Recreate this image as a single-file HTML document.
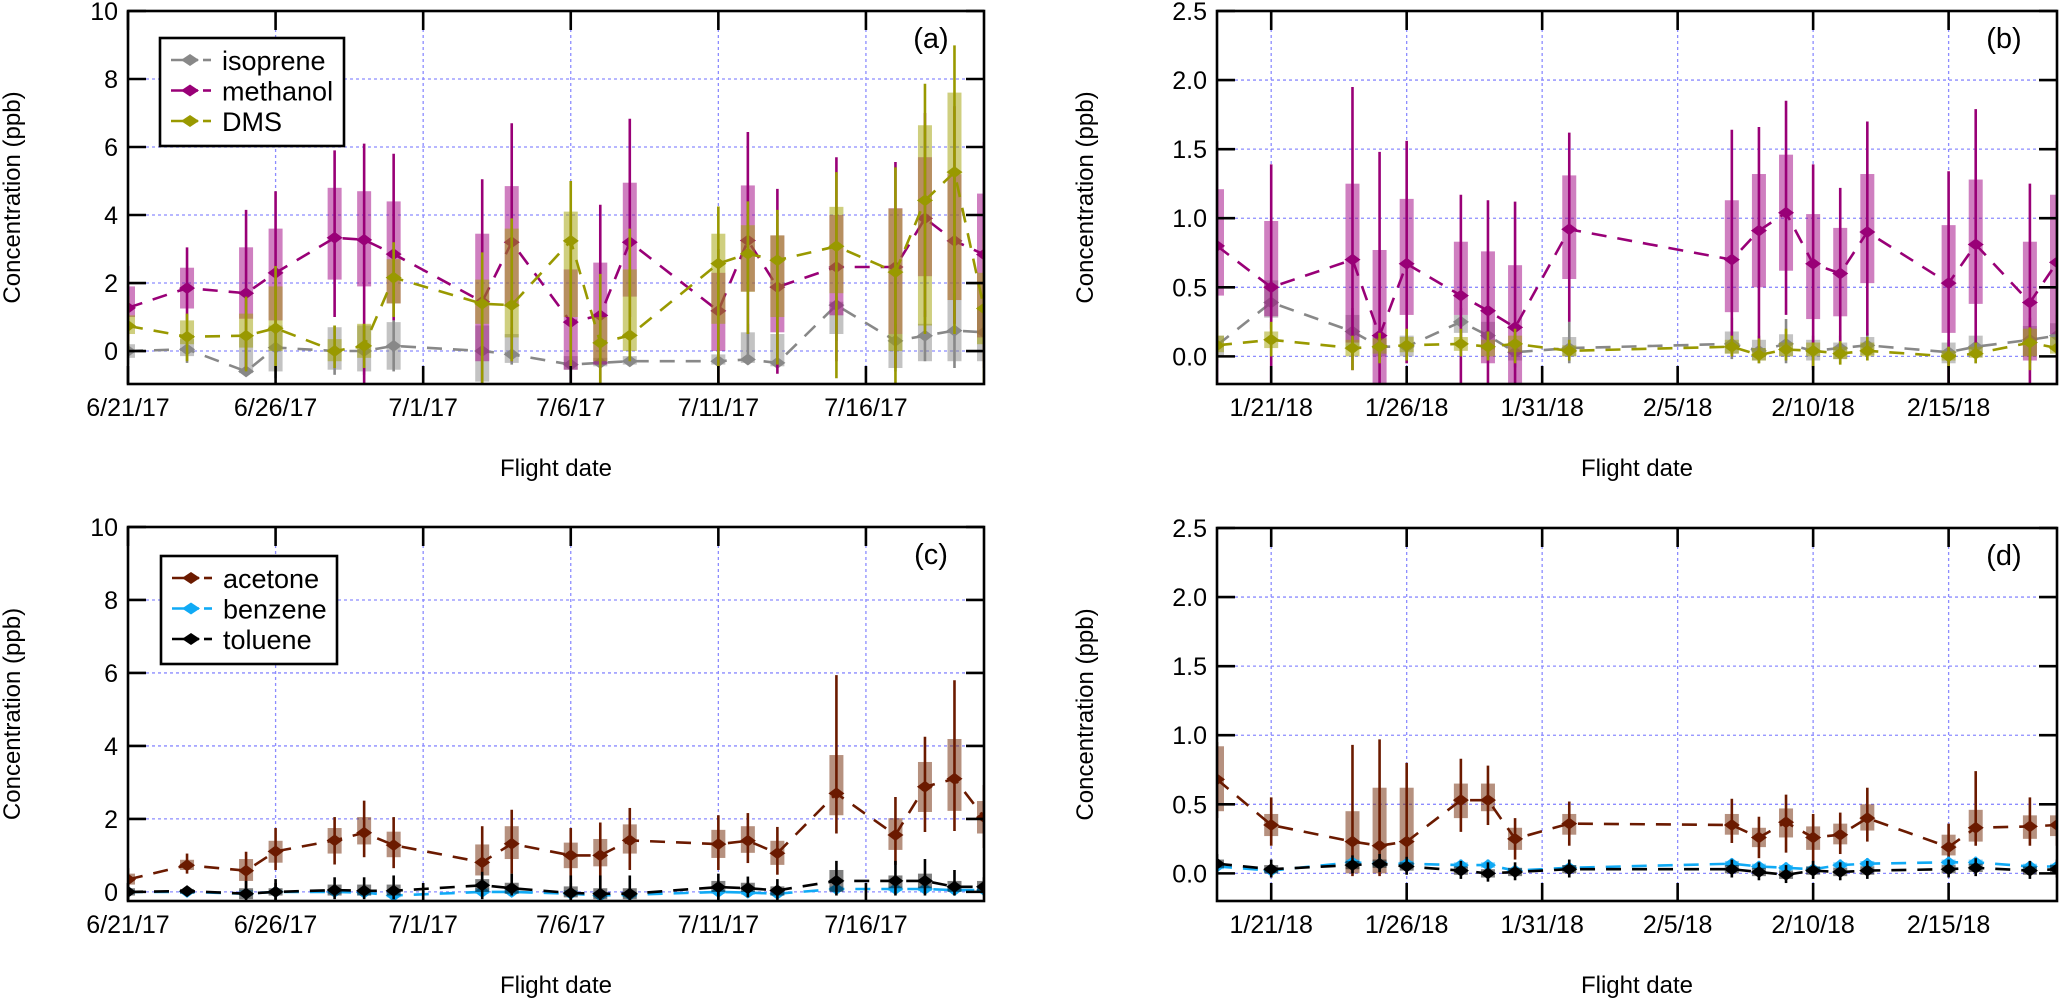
<!DOCTYPE html>
<html><head><meta charset="utf-8"><title>Flight concentrations</title>
<style>
html,body{margin:0;padding:0;background:#fff;}
svg{display:block;font-family:"Liberation Sans",Arial,sans-serif;}
</style></head>
<body>
<svg id="chart" width="2067" height="999" viewBox="0 0 2067 999" xmlns="http://www.w3.org/2000/svg">
<defs>
<clipPath id="clipA"><rect x="128" y="11" width="856" height="373"/></clipPath>
<clipPath id="clipB"><rect x="1217" y="11" width="840" height="373"/></clipPath>
<clipPath id="clipC"><rect x="128" y="527" width="856" height="374"/></clipPath>
<clipPath id="clipD"><rect x="1217" y="528" width="840" height="373"/></clipPath>
</defs>
<g id="root"></g>
</svg>
<script>
// ---------- Panel A / C (summer 2017): days since 6/21/17 ----------
const daysA = [0,2,4,5,7,8,9,12,13,15,16,17,20,21,22,24,26,27,28,29];
const tickDaysA = [0,5,10,15,20,25];
const tickLabelsA = ["6/21/17","6/26/17","7/1/17","7/6/17","7/11/17","7/16/17"];
const yTicksA = [0,2,4,6,8,10];
const yTickLabelsA = ["0","2","4","6","8","10"];

const isoA_med = [0,0.05,-0.6,0.1,0,0,0.15,0,-0.1,-0.4,-0.35,-0.3,-0.3,-0.25,-0.35,1.35,0.3,0.45,0.6,0.55];
const isoA_q1  = [-0.2,-0.15,-0.65,-0.6,-0.55,-0.6,-0.55,-0.9,-0.35,-0.55,-0.45,-0.4,-0.4,-0.35,-0.45,0.5,-0.5,-0.3,-0.3,-0.3];
const isoA_q3  = [0.2,0.35,0.4,0.75,0.7,0.75,0.85,0.75,0.5,-0.15,-0.2,-0.15,-0.1,0.55,0.5,1.45,0.5,0.8,1.5,1.3];
const isoA_lo  = [-0.4,-0.35,-0.7,-0.8,-0.7,-0.7,-0.6,-1,-0.4,-0.6,-0.5,-0.45,-0.5,-0.4,-0.5,0.3,-0.6,-0.3,-0.5,-0.4];
const isoA_hi  = [0.3,0.5,0.6,0.9,0.75,0.8,0.9,0.9,0.7,0,0,0,0.1,0.8,0.6,1.6,0.8,1.2,1.7,1.5];

const methA_med = [1.27,1.85,1.7,2.3,3.33,3.27,2.85,1.45,3.2,0.85,1.05,3.2,1.18,3.25,1.88,2.47,2.47,3.9,3.24,2.84];
const methA_q1  = [1.0,1.25,0.95,0.9,2.1,1.9,1.4,-0.3,1.3,-0.55,-0.4,1.6,0.0,1.75,0.55,1.05,0.5,2.2,1.5,0.4];
const methA_q3  = [1.9,2.45,3.05,3.6,4.8,4.7,4.4,3.45,4.85,2.4,2.6,4.95,2.3,4.87,3.4,4.0,4.2,5.7,5.2,4.63];
const methA_lo  = [0.3,0.9,-0.55,0.5,1.0,-1,0.9,-1,-0.3,-1,-1,1.0,-1,0.5,-0.67,-0.3,-0.5,1.0,0.8,-0.5];
const methA_hi  = [2.5,3.05,4.15,4.7,5.9,6.1,5.8,5.05,6.7,4.0,4.3,6.83,3.0,6.44,4.77,5.7,5.56,7.0,7.2,6.15];

const dmsA_med = [0.74,0.42,0.45,0.67,0.0,0.15,2.16,1.39,1.35,3.24,0.24,0.46,2.57,2.86,2.67,3.08,2.32,4.43,5.26,1.25];
const dmsA_q1  = [0.5,0.2,0.1,0.0,-0.3,-0.2,1.4,0.8,0.4,1.0,-0.3,0.0,0.8,1.74,1.0,1.7,0.0,0.75,1.5,0.2];
const dmsA_q3  = [1.05,0.9,1.1,1.9,0.35,0.8,2.7,2.1,3.6,4.1,1.0,2.4,3.45,3.7,3.4,4.24,4.19,6.64,7.6,2.3];
const dmsA_lo  = [0.0,-0.3,-0.6,-0.6,-0.5,-0.5,1.0,-1,-0.3,-0.5,-1,-0.3,-1,0.5,-0.4,-0.8,-1,0.5,0.5,-1];
const dmsA_hi  = [1.63,1.1,1.6,2.5,0.75,0.8,3.2,2.9,3.9,5.0,2.27,3.6,4.25,4.4,4.15,5.26,5.4,7.86,8.99,3.4];

const aceC_med = [0.34,0.73,0.58,1.11,1.41,1.62,1.28,0.81,1.32,1.0,1.0,1.41,1.31,1.4,1.06,2.7,1.56,2.88,3.1,2.05];
const aceC_q1  = [0.2,0.6,0.3,0.8,1.05,1.3,0.95,0.45,0.9,0.65,0.7,1.05,0.93,1.07,0.74,2.1,1.15,2.19,2.22,1.6];
const aceC_q3  = [0.5,0.88,0.9,1.4,1.75,2.05,1.65,1.3,1.8,1.35,1.45,1.85,1.7,1.8,1.4,3.75,2.02,3.56,4.19,2.49];
const aceC_lo  = [0.0,0.5,0.1,0.6,0.75,0.95,0.65,0.2,0.5,0.15,0.1,0.6,0.6,0.79,0.47,1.6,0.74,1.64,1.67,1.2];
const aceC_hi  = [0.65,1.05,1.1,1.75,2.05,2.5,2.05,1.8,2.25,1.75,1.9,2.3,2.1,2.16,1.78,5.94,2.6,4.25,5.8,2.93];

const benC_med = [0,0,-0.05,0,0,-0.02,-0.1,0,0,-0.05,-0.1,-0.08,0,-0.02,-0.05,0.08,0.08,0.08,0.05,0.05];
const benC_q1  = [-0.05,-0.05,-0.1,-0.05,-0.05,-0.1,-0.15,-0.05,-0.05,-0.1,-0.15,-0.15,-0.05,-0.08,-0.1,0.02,0.02,0.02,0,0];
const benC_q3  = [0.05,0.05,0.05,0.05,0.05,0.05,0,0.1,0.1,0.05,0,0,0.05,0.03,0,0.15,0.15,0.15,0.1,0.1];
const benC_lo  = [-0.1,-0.08,-0.15,-0.1,-0.1,-0.15,-0.2,-0.1,-0.1,-0.15,-0.2,-0.2,-0.1,-0.12,-0.15,0,0,0,-0.05,-0.05];
const benC_hi  = [0.1,0.08,0.1,0.1,0.1,0.1,0.05,0.15,0.15,0.1,0.05,0.05,0.1,0.08,0.05,0.2,0.2,0.2,0.15,0.15];

const tolC_med = [0,0.02,-0.05,0,0.05,0.03,0.03,0.18,0.1,-0.03,-0.05,-0.05,0.13,0.1,0.04,0.3,0.3,0.3,0.14,0.14];
const tolC_q1  = [-0.1,-0.05,-0.2,-0.1,-0.1,-0.1,-0.1,0.0,-0.05,-0.15,-0.2,-0.2,0.0,0.0,-0.1,0.0,0.1,0.1,0.0,0.0];
const tolC_q3  = [0.1,0.08,0.1,0.1,0.2,0.2,0.2,0.35,0.25,0.15,0.1,0.1,0.3,0.25,0.15,0.6,0.45,0.5,0.3,0.3];
const tolC_lo  = [-0.2,-0.1,-0.25,-0.25,-0.2,-0.2,-0.2,-0.2,-0.1,-0.25,-0.25,-0.25,-0.2,-0.15,-0.25,-0.1,-0.1,-0.1,-0.1,-0.1];
const tolC_hi  = [0.15,0.1,0.3,0.35,0.4,0.4,0.45,0.55,0.5,0.45,0.45,0.45,0.5,0.42,0.35,0.85,0.85,0.9,0.6,0.4];

// ---------- Panel B / D (winter 2018): days since 1/19/18 ----------
const daysB = [0,2,5,6,7,9,10,11,13,19,20,21,22,23,24,27,28,30,31];
const tickDaysB = [2,7,12,17,22,27];
const tickLabelsB = ["1/21/18","1/26/18","1/31/18","2/5/18","2/10/18","2/15/18"];
const yTicksB = [0,0.5,1,1.5,2,2.5];
const yTickLabelsB = ["0.0","0.5","1.0","1.5","2.0","2.5"];

const methB_med = [0.80,0.50,0.70,0.15,0.67,0.44,0.33,0.21,0.92,0.70,0.91,1.04,0.67,0.60,0.90,0.53,0.81,0.39,0.68];
const methB_q1  = [0.44,0.29,0.1,-0.2,0.3,0.3,-0.05,-0.2,0.56,0.32,0.5,0.62,0.27,0.29,0.53,0.17,0.38,-0.03,0.16];
const methB_q3  = [1.21,0.98,1.25,0.77,1.14,0.83,0.76,0.66,1.31,1.13,1.32,1.46,1.03,0.93,1.32,0.95,1.28,0.83,1.17];
const methB_lo  = [-0.2,-0.2,-0.1,-0.2,-0.05,-0.2,-0.2,-0.2,0.25,0.0,-0.01,0.3,-0.1,0.0,0.15,-0.2,0.0,-0.2,-0.2];
const methB_hi  = [1.56,1.39,1.95,1.48,1.56,1.17,1.13,1.12,1.62,1.64,1.66,1.85,1.39,1.22,1.7,1.34,1.79,1.25,1.56];

const isoB_med = [0.08,0.39,0.18,0.07,0.07,0.25,0.15,0.03,0.06,0.09,0.04,0.09,0.04,0.06,0.08,0.03,0.07,0.12,0.15];
const isoB_q1  = [0.0,0.28,0.05,0.0,0.0,0.17,0.05,-0.03,0.0,0.02,-0.03,0.0,-0.03,-0.02,0.01,-0.05,0.0,0.0,0.05];
const isoB_q3  = [0.15,0.55,0.3,0.14,0.15,0.3,0.25,0.1,0.14,0.18,0.12,0.16,0.12,0.1,0.14,0.1,0.15,0.22,0.24];
const isoB_lo  = [-0.05,0.2,0.0,-0.05,-0.05,0.1,0.0,-0.08,-0.05,-0.02,-0.05,-0.05,-0.08,-0.05,-0.03,-0.08,-0.05,-0.05,0.0];
const isoB_hi  = [0.22,0.6,0.35,0.2,0.2,0.35,0.3,0.15,0.25,0.28,0.15,0.27,0.15,0.15,0.17,0.12,0.15,0.28,0.3];

const dmsB_med = [0.08,0.12,0.06,0.07,0.08,0.09,0.07,0.09,0.04,0.07,0.01,0.05,0.04,0.02,0.04,0.0,0.02,0.1,0.06];
const dmsB_q1  = [0.03,0.06,0.0,0.02,0.03,0.04,0.0,0.03,0.0,0.02,-0.03,0.0,0.0,-0.02,0.0,-0.03,-0.01,0.0,0.02];
const dmsB_q3  = [0.15,0.18,0.12,0.13,0.14,0.14,0.12,0.15,0.08,0.12,0.06,0.1,0.1,0.07,0.1,0.04,0.07,0.2,0.14];
const dmsB_lo  = [-0.02,0.0,-0.1,-0.05,-0.03,0.0,-0.03,-0.05,-0.03,0.0,-0.05,-0.03,-0.08,-0.06,-0.03,-0.08,-0.05,-0.1,-0.03];
const dmsB_hi  = [0.25,0.25,0.15,0.17,0.2,0.2,0.18,0.2,0.12,0.15,0.13,0.2,0.1,0.11,0.14,0.07,0.1,0.21,0.2];

const aceD_med = [0.68,0.35,0.23,0.2,0.23,0.53,0.53,0.25,0.36,0.35,0.26,0.37,0.26,0.28,0.40,0.19,0.33,0.34,0.35];
const aceD_q1  = [0.45,0.27,0.0,0.0,0.05,0.4,0.45,0.17,0.28,0.28,0.19,0.26,0.17,0.21,0.31,0.13,0.23,0.25,0.27];
const aceD_q3  = [0.92,0.43,0.45,0.62,0.62,0.65,0.65,0.33,0.43,0.43,0.33,0.47,0.34,0.36,0.5,0.28,0.46,0.42,0.42];
const aceD_lo  = [0.4,0.2,-0.02,-0.02,0.0,0.3,0.35,0.1,0.2,0.22,0.11,0.15,0.05,0.14,0.23,0.09,0.2,0.2,0.2];
const aceD_hi  = [0.95,0.55,0.93,0.97,0.8,0.83,0.78,0.4,0.52,0.54,0.41,0.57,0.43,0.44,0.62,0.36,0.74,0.55,0.5];

const benD_med = [0.05,0.02,0.08,0.07,0.07,0.06,0.06,0.02,0.04,0.07,0.05,0.04,0.03,0.06,0.07,0.08,0.08,0.05,0.05];
const benD_q1  = [0.03,0.0,0.06,0.05,0.05,0.04,0.04,0.0,0.02,0.05,0.03,0.02,0.01,0.04,0.05,0.06,0.06,0.03,0.03];
const benD_q3  = [0.07,0.04,0.1,0.09,0.09,0.08,0.08,0.04,0.06,0.09,0.07,0.06,0.05,0.08,0.09,0.1,0.1,0.07,0.07];
const benD_lo  = [0.01,-0.01,0.04,0.03,0.03,0.02,0.02,-0.01,0.0,0.03,0.01,0.0,-0.01,0.02,0.03,0.04,0.04,0.01,0.01];
const benD_hi  = [0.09,0.06,0.12,0.11,0.11,0.1,0.1,0.06,0.08,0.11,0.09,0.08,0.07,0.1,0.11,0.12,0.12,0.09,0.09];

const tolD_med = [0.07,0.03,0.06,0.07,0.05,0.02,0.0,0.01,0.03,0.03,0.01,-0.01,0.02,0.01,0.02,0.03,0.04,0.02,0.03];
const tolD_q1  = [0.04,0.0,0.03,0.04,0.02,-0.01,-0.03,-0.02,0.0,0.0,-0.02,-0.04,-0.01,-0.02,-0.01,0.0,0.01,-0.01,0.0];
const tolD_q3  = [0.1,0.06,0.09,0.1,0.08,0.05,0.03,0.04,0.06,0.06,0.04,0.02,0.05,0.04,0.05,0.06,0.07,0.05,0.06];
const tolD_lo  = [0.01,-0.03,0.0,0.01,-0.01,-0.04,-0.06,-0.05,-0.03,-0.03,-0.05,-0.07,-0.04,-0.05,-0.04,-0.03,-0.02,-0.04,-0.03];
const tolD_hi  = [0.14,0.1,0.13,0.14,0.12,0.09,0.08,0.08,0.1,0.1,0.08,0.06,0.09,0.08,0.09,0.1,0.11,0.09,0.1];

const NS = "http://www.w3.org/2000/svg";
const root = document.getElementById("root");
function mk(tag, attrs, parent) {
  const e = document.createElementNS(NS, tag);
  for (const k in attrs) e.setAttribute(k, attrs[k]);
  (parent || root).appendChild(e);
  return e;
}

function drawPanel(p) {
  const g = mk("g", {});
  
  
  const xs = d => p.x0 + (d - p.dMin) / (p.dMax - p.dMin) * (p.x1 - p.x0);
  const ys = v => p.yB - (v - p.vMin) / (p.vMax - p.vMin) * (p.yB - p.yT);

  const grid = mk("g", {stroke: "#8c8cff", "stroke-width": 1.3, "stroke-dasharray": "3 3", fill: "none"}, g);
  
  
  p.yTicks.forEach(v => { if (v > p.vMin && v < p.vMax) mk("line", {x1: p.x0, x2: p.x1, y1: ys(v), y2: ys(v)}, grid); });
  p.xTicks.forEach(d => mk("line", {x1: xs(d), x2: xs(d), y1: p.yT, y2: p.yB}, grid));

  const data = mk("g", {"clip-path": "url(#" + p.clip + ")"}, g);
  
  
  p.series.forEach(s => {
    const sg = mk("g", {}, data);
    
    
    p.days.forEach((d, i) => {
      const x = xs(d);
      const b = mk("rect", {x: x - 7, y: ys(s.q3[i]), width: 14, height: Math.max(0, ys(s.q1[i]) - ys(s.q3[i])), fill: s.box}, sg);
      
      
    });
    p.days.forEach((d, i) => {
      const x = xs(d);
      const w = mk("line", {x1: x, x2: x, y1: ys(s.lo[i]), y2: ys(s.hi[i]), stroke: s.color, "stroke-width": 2.6}, sg);
      
      
    });
    const pts = p.days.map((d, i) => xs(d).toFixed(1) + "," + ys(s.med[i]).toFixed(1)).join(" ");
    const ln = mk("polyline", {points: pts, fill: "none", stroke: s.color, "stroke-width": 2.6, "stroke-dasharray": "15 11"}, sg);
    
    
    p.days.forEach((d, i) => {
      const x = xs(d), y = ys(s.med[i]);
      const m = mk("path", {d: `M${x-8},${y} L${x},${y-6} L${x+8},${y} L${x},${y+6} Z`, fill: s.color}, sg);
      
      
    });
  });

  const fr = mk("rect", {x: p.x0, y: p.yT, width: p.x1 - p.x0, height: p.yB - p.yT, fill: "none", stroke: "#000", "stroke-width": 2.6}, g);
  
  
  const tk = mk("g", {stroke: "#000", "stroke-width": 2.6}, g);
  
  
  p.yTicks.forEach(v => {
    mk("line", {x1: p.x0, x2: p.x0 + 18, y1: ys(v), y2: ys(v)}, tk);
    mk("line", {x1: p.x1 - 18, x2: p.x1, y1: ys(v), y2: ys(v)}, tk);
  });
  p.xTicks.forEach(d => {
    mk("line", {x1: xs(d), x2: xs(d), y1: p.yT, y2: p.yT + 19}, tk);
    mk("line", {x1: xs(d), x2: xs(d), y1: p.yB - 18, y2: p.yB}, tk);
  });

  p.yTicks.forEach((v, i) => {
    const t = mk("text", {x: p.x0 - 10, y: ys(v) + 9, "text-anchor": "end", "font-size": 25}, g);
    t.textContent = p.yLabels[i];
    
    
  });
  p.xTicks.forEach((d, i) => {
    const t = mk("text", {x: xs(d), y: p.yB + 32, "text-anchor": "middle", "font-size": 25}, g);
    t.textContent = p.xLabels[i];
    
    
  });
  const xt = mk("text", {x: (p.x0 + p.x1) / 2, y: p.yB + 92, "text-anchor": "middle", "font-size": 24}, g);
  xt.textContent = "Flight date";
  
  
  const yc = (p.yT + p.yB) / 2;
  const yt = mk("text", {x: p.yTitleX, y: yc, "text-anchor": "middle", "font-size": 24, transform: `rotate(-90 ${p.yTitleX} ${yc})`}, g);
  yt.textContent = "Concentration (ppb)";
  
  
  const pl = mk("text", {x: p.x1 - 53, y: p.yT + 37, "text-anchor": "middle", "font-size": 29}, g);
  pl.textContent = "(" + p.id + ")";
  
  

  if (p.legend) {
    const L = p.legend;
    const lg = mk("g", {}, g);
    
    
    mk("rect", {x: L.x, y: L.y, width: L.w, height: L.h, fill: "#fff", stroke: "#000", "stroke-width": 2.6}, lg);
    p.series.forEach((s, i) => {
      const cy = L.y + 22 + i * 30.5;
      const e = mk("g", {}, lg);
      
      
      mk("line", {x1: L.x + 11, x2: L.x + 38, y1: cy, y2: cy, stroke: s.color, "stroke-width": 2.6}, e);
      mk("line", {x1: L.x + 43, x2: L.x + 51, y1: cy, y2: cy, stroke: s.color, "stroke-width": 2.6}, e);
      mk("path", {d: `M${L.x+21},${cy} L${L.x+30},${cy-6} L${L.x+39},${cy} L${L.x+30},${cy+6} Z`, fill: s.color}, e);
      const t = mk("text", {x: L.x + 62, y: cy + 10, "font-size": 27}, e);
      t.textContent = s.label;
    });
  }
}

const cIso = {color: "#888888", box: "rgba(136,136,136,0.5)"};
const cMeth = {color: "#990077", box: "rgba(160,0,130,0.5)"};
const cDms = {color: "#999900", box: "rgba(160,160,0,0.5)"};
const cAce = {color: "#6b1a00", box: "rgba(110,35,0,0.5)"};
const cBen = {color: "#10aaf5", box: "rgba(16,170,245,0.5)"};
const cTol = {color: "#000000", box: "rgba(0,0,0,0.5)"};

drawPanel({id: "a", x0: 128, x1: 984, dMin: 0, dMax: 29, yT: 11, yB: 384, vMin: -0.97, vMax: 10,
  days: daysA, xTicks: tickDaysA, xLabels: tickLabelsA, yTicks: yTicksA, yLabels: yTickLabelsA, clip: "clipA", yTitleX: 20,
  legend: {x: 160, y: 38, w: 184, h: 108},
  series: [
    Object.assign({name: "isoprene", label: "isoprene", med: isoA_med, q1: isoA_q1, q3: isoA_q3, lo: isoA_lo, hi: isoA_hi}, cIso),
    Object.assign({name: "methanol", label: "methanol", med: methA_med, q1: methA_q1, q3: methA_q3, lo: methA_lo, hi: methA_hi}, cMeth),
    Object.assign({name: "dms", label: "DMS", med: dmsA_med, q1: dmsA_q1, q3: dmsA_q3, lo: dmsA_lo, hi: dmsA_hi}, cDms)
  ]});
drawPanel({id: "b", x0: 1217, x1: 2057, dMin: 0, dMax: 31, yT: 11, yB: 384, vMin: -0.2, vMax: 2.5,
  days: daysB, xTicks: tickDaysB, xLabels: tickLabelsB, yTicks: yTicksB, yLabels: yTickLabelsB, clip: "clipB", yTitleX: 1093,
  series: [
    Object.assign({name: "isoprene", label: "isoprene", med: isoB_med, q1: isoB_q1, q3: isoB_q3, lo: isoB_lo, hi: isoB_hi}, cIso),
    Object.assign({name: "methanol", label: "methanol", med: methB_med, q1: methB_q1, q3: methB_q3, lo: methB_lo, hi: methB_hi}, cMeth),
    Object.assign({name: "dms", label: "DMS", med: dmsB_med, q1: dmsB_q1, q3: dmsB_q3, lo: dmsB_lo, hi: dmsB_hi}, cDms)
  ]});
drawPanel({id: "c", x0: 128, x1: 984, dMin: 0, dMax: 29, yT: 527, yB: 901, vMin: -0.25, vMax: 10,
  days: daysA, xTicks: tickDaysA, xLabels: tickLabelsA, yTicks: yTicksA, yLabels: yTickLabelsA, clip: "clipC", yTitleX: 20,
  legend: {x: 161, y: 556, w: 176, h: 108},
  series: [
    Object.assign({name: "acetone", label: "acetone", med: aceC_med, q1: aceC_q1, q3: aceC_q3, lo: aceC_lo, hi: aceC_hi}, cAce),
    Object.assign({name: "benzene", label: "benzene", med: benC_med, q1: benC_q1, q3: benC_q3, lo: benC_lo, hi: benC_hi}, cBen),
    Object.assign({name: "toluene", label: "toluene", med: tolC_med, q1: tolC_q1, q3: tolC_q3, lo: tolC_lo, hi: tolC_hi}, cTol)
  ]});
drawPanel({id: "d", x0: 1217, x1: 2057, dMin: 0, dMax: 31, yT: 528, yB: 901, vMin: -0.2, vMax: 2.5,
  days: daysB, xTicks: tickDaysB, xLabels: tickLabelsB, yTicks: yTicksB, yLabels: yTickLabelsB, clip: "clipD", yTitleX: 1093,
  series: [
    Object.assign({name: "acetone", label: "acetone", med: aceD_med, q1: aceD_q1, q3: aceD_q3, lo: aceD_lo, hi: aceD_hi}, cAce),
    Object.assign({name: "benzene", label: "benzene", med: benD_med, q1: benD_q1, q3: benD_q3, lo: benD_lo, hi: benD_hi}, cBen),
    Object.assign({name: "toluene", label: "toluene", med: tolD_med, q1: tolD_q1, q3: tolD_q3, lo: tolD_lo, hi: tolD_hi}, cTol)
  ]});
</script>
</body></html>
